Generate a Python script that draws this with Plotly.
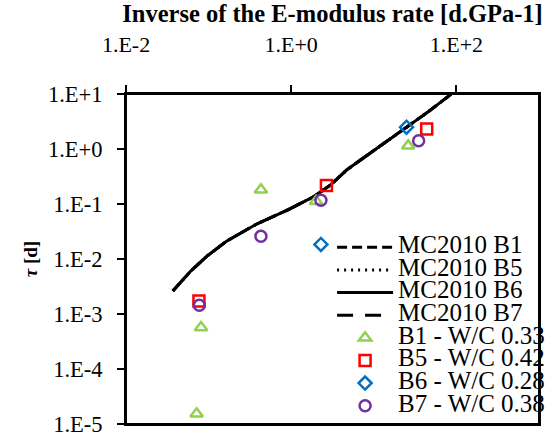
import plotly.graph_objects as go

# ---- data ----
curve_x = [0.0369, 0.0608, 0.0957, 0.165, 0.373, 0.925, 1.91, 3.01, 4.73, 11.7, 24.9, 45.8, 78.9, 86.3]
curve_y = [0.00262, 0.00604, 0.0113, 0.0211, 0.0424, 0.0793, 0.138, 0.224, 0.42, 1.11, 2.56, 4.78, 8.94, 10.0]

b1_x = [0.43, 2.0, 26.1, 0.081, 0.0716]
b1_y = [0.182, 0.112, 1.14, 0.00057, 1.53e-5]
b5_x = [2.67, 43.7, 0.0764]
b5_y = [0.216, 2.32, 0.00173]
b6_x = [2.29, 24.9]
b6_y = [0.0184, 2.49]
b7_x = [0.43, 2.29, 34.9, 0.0772]
b7_y = [0.026, 0.117, 1.41, 0.00144]

x_major = [1e-2, 1e0, 1e2]
x_major_text = ["1.E-2", "1.E+0", "1.E+2"]
y_major = [1e-5, 1e-4, 1e-3, 1e-2, 1e-1, 1e0, 1e1]
y_major_text = ["1.E-5", "1.E-4", "1.E-3", "1.E-2", "1.E-1", "1.E+0", "1.E+1"]
x_minor = [m * d for d in (0.1, 10) for m in range(1, 10)]
y_minor = [m * 10.0 ** e for e in range(-5, 1) for m in range(2, 10)]

FONT = "Liberation Serif"


def lab(t):
    return '<span style="font-size:25px">' + t + '</span>'


fig = go.Figure()

line_specs = [
    ("MC2010 B1", "10px,5px"),
    ("MC2010 B5", "2px,5px"),
    ("MC2010 B6", "solid"),
    ("MC2010 B7", "16px,12px"),
]
for name, dash in line_specs:
    fig.add_trace(go.Scatter(x=curve_x, y=curve_y, mode="lines", name=lab(name),
                             line=dict(color="black", width=3, dash=dash)))

pt_specs = [
    ("B1 - W/C 0.33", b1_x, b1_y, "triangle-up-open", "#92D050", 11),
    ("B5 - W/C 0.42", b5_x, b5_y, "square-open", "#FF0000", 11),
    ("B6 - W/C 0.28", b6_x, b6_y, "diamond-open", "#0070C0", 10),
    ("B7 - W/C 0.38", b7_x, b7_y, "circle-open", "#7030A0", 11),
]
for name, xs, ys, sym, col, sz in pt_specs:
    fig.add_trace(go.Scatter(x=xs, y=ys, mode="markers", name=lab(name),
                             marker=dict(symbol=sym, color=col, size=sz,
                                         line=dict(color=col, width=2.5))))

tick_axis = dict(showline=False, showgrid=False, zeroline=False, showticklabels=False,
                 tickmode="array", tickcolor="black")

fig.update_layout(
    width=555, height=435,
    margin=dict(l=126, r=5, t=94, b=11),
    paper_bgcolor="white", plot_bgcolor="white",
    font=dict(family=FONT, color="black"),
    showlegend=True,
    legend=dict(x=0.499, y=0.585, xanchor="left", yanchor="top",
                bgcolor="rgba(0,0,0,0)", borderwidth=0,
                font=dict(family=FONT, size=15.1, color="black"),
                itemwidth=56, tracegroupgap=0),
    xaxis=dict(type="log", range=[-2, 3], side="top", automargin=False,
               tickmode="array", tickvals=x_major, ticktext=x_major_text,
               ticks="outside", ticklen=7, tickwidth=2, tickcolor="black",
               tickfont=dict(family=FONT, size=22, color="black"),
               ticklabelstandoff=24, ticklabeloverflow="allow",
               showline=True, linewidth=2, linecolor="black", mirror=True,
               showgrid=False, zeroline=False,
               title=dict(text="<b>Inverse of the E-modulus rate [d.GPa-1]</b>",
                          font=dict(family=FONT, size=24.5, color="black"), standoff=5)),
    yaxis=dict(type="log", range=[-5, 1], automargin=False,
               tickmode="array", tickvals=y_major, ticktext=y_major_text,
               ticks="outside", ticklen=7, tickwidth=2, tickcolor="black",
               tickfont=dict(family=FONT, size=22.5, color="black"),
               ticklabelstandoff=10, ticklabeloverflow="allow",
               showline=True, linewidth=2, linecolor="black", mirror=True,
               showgrid=False, zeroline=False,
               title=dict(text="<b><i>τ</i> [d]</b>",
                          font=dict(family=FONT, size=19, color="black"), standoff=5)),
    xaxis2=dict(tick_axis, type="log", range=[-2, 3], overlaying="x", side="top", anchor="y",
                tickvals=x_major, ticks="inside", ticklen=5, tickwidth=2),
    yaxis2=dict(tick_axis, type="log", range=[-5, 1], overlaying="y", side="left", anchor="x",
                tickvals=y_major, ticks="inside", ticklen=4, tickwidth=2),
    xaxis3=dict(tick_axis, type="log", range=[-2, 3], overlaying="x", side="top", anchor="y",
                tickvals=x_minor, ticks="outside", ticklen=5, tickwidth=1.5),
    yaxis3=dict(tick_axis, type="log", range=[-5, 1], overlaying="y", side="left", anchor="x",
                tickvals=y_minor, ticks="outside", ticklen=5, tickwidth=1.5),
    shapes=[dict(type="rect", xref="paper", yref="paper", x0=0, x1=1, y0=0, y1=1,
                 line=dict(color="black", width=2), fillcolor="rgba(0,0,0,0)", layer="above")],
)

fig.write_html("out.html", config={"displayModeBar": False},
               post_script="document.body.style.margin='0';")
